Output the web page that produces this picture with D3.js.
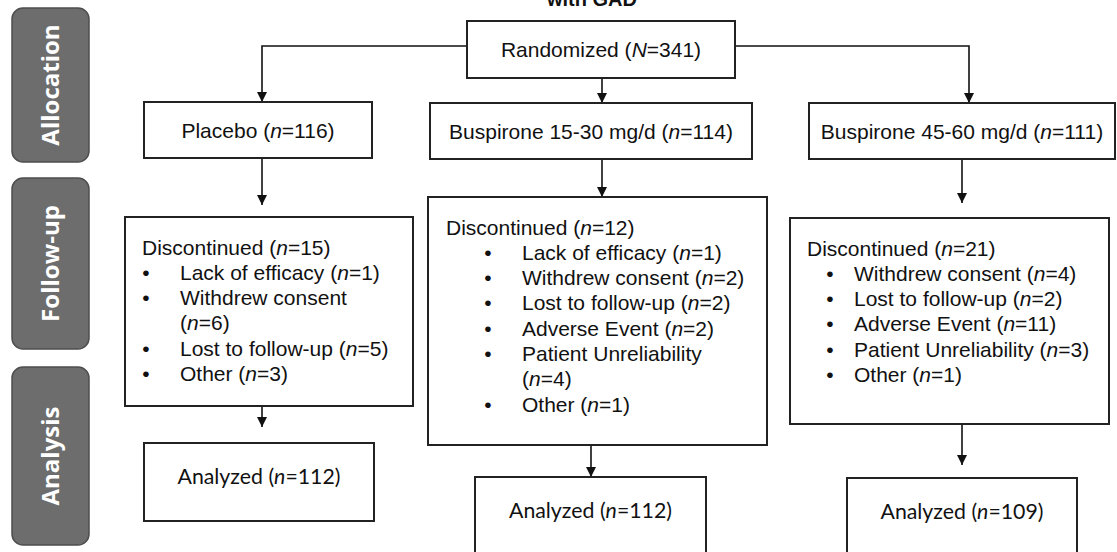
<!DOCTYPE html>
<html lang="en">
<head>
  <meta charset="utf-8">
  <title>Buspirone GAD flow</title>
  <script src="https://cdn.jsdelivr.net/npm/d3@7"></script>
  <style>
    body { margin: 0; background: #fff; }
    svg text { font-family: "Liberation Sans", Arial, sans-serif; fill: #111; }
  </style>
</head>
<body>
  <div class="chart"></div>
  <script>
    // values
    var stages = ["Allocation", "Follow-up", "Analysis"];
    var arms = ["Placebo", "Buspirone 15-30 mg/d", "Buspirone 45-60 mg/d"];
    var randomizedN = 341;
    var allocatedN = [116, 114, 111];
    var discontinuedN = [15, 12, 21];
    var reasonLabels = [
      ["Lack of efficacy", "Withdrew consent", "Lost to follow-up", "Other"],
      ["Lack of efficacy", "Withdrew consent", "Lost to follow-up", "Adverse Event", "Patient Unreliability", "Other"],
      ["Withdrew consent", "Lost to follow-up", "Adverse Event", "Patient Unreliability", "Other"]
    ];
    var reasonN = [
      [1, 6, 5, 3],
      [1, 2, 2, 2, 4, 1],
      [4, 2, 11, 3, 1]
    ];
    // reasons whose count drops onto the next line in the original
    var wrapped = [["Withdrew consent"], ["Patient Unreliability"], []];
    var analyzedN = [112, 112, 109];

    var w = 1117, h = 552;
    var fs = '21px';

    // layout (x0, y0, x1, y1)
    var stageBox = [[12, 8, 89, 162], [12, 178, 89, 349], [12, 367, 89, 545]];
    var randBox = [467, 21, 735, 78];
    var allocBox = [[144, 102, 372, 158], [430, 103, 752, 159], [809, 103, 1115, 159]];
    var discBox = [[125, 217, 413, 406], [428, 197, 767, 445], [790, 218, 1109, 424]];
    var anaBox = [[144, 443, 374, 521], [475, 477, 706, 580], [847, 478, 1077, 580]];
    var discText = [
      { hx: 142, bx: 146, tx: 180, y: 247 },
      { hx: 446, bx: 488, tx: 522, y: 227 },
      { hx: 807, bx: 830, tx: 854, y: 248 }
    ];
    var lineH = 25.3;

    var svg = d3.select('.chart')
      .append('svg')
      .attr('width', w)
      .attr('height', h);

    svg.append('defs').append('marker')
      .attr('id', 'arrow')
      .attr('viewBox', '0 0 10 10')
      .attr('refX', 10).attr('refY', 5)
      .attr('markerWidth', 6.5).attr('markerHeight', 7)
      .attr('markerUnits', 'strokeWidth')
      .attr('orient', 'auto')
      .append('path')
      .attr('d', 'M0,0L10,5L0,10Z')
      .attr('fill', '#111');

    // title, mostly cut off at the top as in the source
    svg.append('text')
      .attr('x', 592).attr('y', 6)
      .attr('text-anchor', 'middle')
      .style('font-weight', 'bold')
      .style('font-size', '20px')
      .text('with GAD');

    // grey stage tabs on the left
    var tabs = svg.selectAll('g.stage')
      .data(stages)
      .enter()
      .append('g')
      .attr('class', 'stage');

    tabs.append('rect')
      .attr('x', function(d, i) { return stageBox[i][0]; })
      .attr('y', function(d, i) { return stageBox[i][1]; })
      .attr('width', function(d, i) { return stageBox[i][2] - stageBox[i][0]; })
      .attr('height', function(d, i) { return stageBox[i][3] - stageBox[i][1]; })
      .attr('rx', 11)
      .attr('fill', '#6d6d6d')
      .attr('stroke', '#4e4e4e')
      .attr('stroke-width', 1.5);

    tabs.append('text')
      .attr('transform', function(d, i) {
        var b = stageBox[i];
        return 'translate(' + ((b[0] + b[2]) / 2) + ',' + ((b[1] + b[3]) / 2) + ') rotate(-90)';
      })
      .attr('text-anchor', 'middle')
      .attr('dy', '0.36em')
      .style('font-family', '"Open Sans", sans-serif')
      .style('font-weight', 'bold')
      .style('font-size', '24px')
      .style('fill', '#fff')
      .text(function(d) { return d; });

    function box(b) {
      svg.append('rect')
        .attr('x', b[0]).attr('y', b[1])
        .attr('width', b[2] - b[0]).attr('height', b[3] - b[1])
        .attr('fill', '#fff')
        .attr('stroke', '#222')
        .attr('stroke-width', 2);
    }

    // label with italic n / N
    function countText(sel, label, sym, n) {
      sel.append('tspan').text(label + ' (');
      sel.append('tspan').style('font-style', 'italic').text(sym);
      sel.append('tspan').text('=' + n + ')');
    }

    function arrow(pts) {
      svg.append('path')
        .attr('d', d3.line()(pts))
        .attr('fill', 'none')
        .attr('stroke', '#111')
        .attr('stroke-width', 1.6)
        .attr('marker-end', 'url(#arrow)');
    }

    // connectors
    var allocCx = [262, 602, 969];
    arrow([[randBox[0], 46], [allocCx[0], 46], [allocCx[0], allocBox[0][1]]]);
    arrow([[allocCx[1], randBox[3]], [allocCx[1], allocBox[1][1]]]);
    arrow([[randBox[2], 46], [allocCx[2], 46], [allocCx[2], allocBox[2][1]]]);

    var downX = [262, 602, 962];
    var discGap = [12, 0, 15];
    downX.forEach(function(x, i) {
      arrow([[x, allocBox[i][3]], [x, discBox[i][1] - discGap[i]]]);
    });

    var anaX = [262, 591, 962];
    var anaGap = [16, 0, 13];
    anaX.forEach(function(x, i) {
      arrow([[x, discBox[i][3]], [x, anaBox[i][1] - anaGap[i]]]);
    });

    // randomized
    box(randBox);
    countText(svg.append('text')
      .attr('x', (randBox[0] + randBox[2]) / 2)
      .attr('y', (randBox[1] + randBox[3]) / 2)
      .attr('dy', '0.36em')
      .attr('text-anchor', 'middle')
      .style('font-size', fs), 'Randomized', 'N', randomizedN);

    arms.forEach(function(arm, i) {
      var b = allocBox[i];
      box(b);
      countText(svg.append('text')
        .attr('x', (b[0] + b[2]) / 2)
        .attr('y', (b[1] + b[3]) / 2)
        .attr('dy', '0.36em')
        .attr('text-anchor', 'middle')
        .style('font-size', fs), arm, 'n', allocatedN[i]);

      // discontinued box
      box(discBox[i]);
      var t = discText[i];
      countText(svg.append('text')
        .attr('x', t.hx).attr('y', t.y)
        .attr('dy', '0.36em')
        .style('font-size', fs), 'Discontinued', 'n', discontinuedN[i]);

      var row = 1;
      reasonLabels[i].forEach(function(r, j) {
        var y = t.y + row * lineH;
        svg.append('text')
          .attr('x', t.bx).attr('y', y)
          .attr('dy', '0.36em')
          .attr('text-anchor', 'middle')
          .style('font-size', fs)
          .text('\u2022');
        var txt = svg.append('text')
          .attr('x', t.tx).attr('y', y)
          .attr('dy', '0.36em')
          .style('font-size', fs);
        if (wrapped[i].indexOf(r) >= 0) {
          txt.text(r);
          row++;
          txt = svg.append('text')
            .attr('x', t.tx).attr('y', t.y + row * lineH)
            .attr('dy', '0.36em')
            .style('font-size', fs);
          countText(txt, '', 'n', reasonN[i][j]);
          txt.select('tspan').text('(');
        } else {
          countText(txt, r, 'n', reasonN[i][j]);
        }
        row++;
      });

      // analyzed box
      var a = anaBox[i];
      box(a);
      countText(svg.append('text')
        .attr('x', (a[0] + a[2]) / 2)
        .attr('y', a[1] + 33)
        .attr('dy', '0.36em')
        .attr('text-anchor', 'middle')
        .style('font-family', 'Lato, "Open Sans", sans-serif')
        .style('font-size', '21.3px'), 'Analyzed', 'n', analyzedN[i]);
    });
  </script>
</body>
</html>
